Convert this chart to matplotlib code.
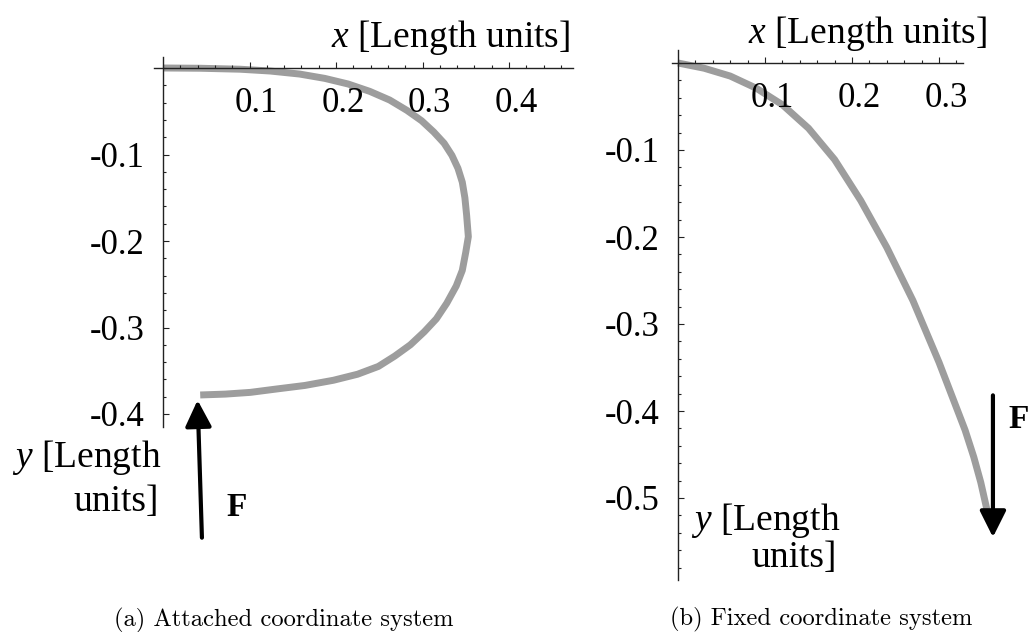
import matplotlib
matplotlib.use("Agg")
import matplotlib.pyplot as plt
from matplotlib.ticker import MultipleLocator
from matplotlib.transforms import ScaledTranslation

plt.rcParams["font.family"] = "Liberation Serif"
plt.rcParams["mathtext.fontset"] = "custom"
plt.rcParams["mathtext.rm"] = "Liberation Serif"
plt.rcParams["mathtext.it"] = "Liberation Serif:italic"
plt.rcParams["mathtext.bf"] = "Liberation Serif:bold"

# beam shape seen from the attached (rotating) frame
attached_x = [0.0, 0.043, 0.089, 0.124, 0.158, 0.187, 0.214, 0.239, 0.262,
              0.282, 0.299, 0.313, 0.325, 0.334, 0.341, 0.346, 0.349, 0.351,
              0.353, 0.350, 0.346, 0.339, 0.328, 0.316, 0.302, 0.286, 0.268,
              0.249, 0.225, 0.197, 0.164, 0.132, 0.101, 0.072, 0.043]
attached_y = [0.0, -0.0003, -0.0014, -0.0035, -0.007, -0.012, -0.0185, -0.027,
              -0.037, -0.049, -0.061, -0.074, -0.087, -0.101, -0.116, -0.132,
              -0.150, -0.170, -0.195, -0.213, -0.234, -0.252, -0.272, -0.290,
              -0.305, -0.320, -0.333, -0.345, -0.354, -0.361, -0.367, -0.371,
              -0.375, -0.377, -0.378]

# beam shape seen from the fixed frame
fixed_x = [0.0, 0.03, 0.06, 0.09, 0.12, 0.15, 0.18, 0.21, 0.24, 0.27, 0.30,
           0.33, 0.34, 0.348, 0.355]
fixed_y = [0.0, -0.006, -0.015, -0.029, -0.048, -0.075, -0.111, -0.158,
           -0.212, -0.273, -0.344, -0.422, -0.453, -0.482, -0.513]

attached_xticks = [0.1, 0.2, 0.3, 0.4]
attached_yticks = [-0.1, -0.2, -0.3, -0.4]
fixed_xticks = [0.1, 0.2, 0.3]
fixed_yticks = [-0.1, -0.2, -0.3, -0.4, -0.5]

# tip load F: (tail, head)
attached_force = [(0.045, -0.543), (0.040, -0.384)]
fixed_force = [(0.362, -0.382), (0.362, -0.545)]

W, H = 1030, 632
fig = plt.figure(figsize=(W / 100, H / 100), dpi=100)


def px(x, y):
    return x / W, 1 - y / H


def make_axes(origin, scale, left, right, top, bottom, xticks, yticks):
    # origin = pixel of (0, 0), scale = pixels per length unit
    ox, oy = origin
    ax = fig.add_axes([left / W, 1 - bottom / H, (right - left) / W, (bottom - top) / H])
    ax.set_xlim((left - ox) / scale, (right - ox) / scale)
    ax.set_ylim((oy - bottom) / scale, (oy - top) / scale)
    ax.patch.set_alpha(0)
    for side in ["top", "right"]:
        ax.spines[side].set_visible(False)
    for side in ["left", "bottom"]:
        ax.spines[side].set_position(("data", 0))
        ax.spines[side].set_linewidth(1.0)
        ax.spines[side].set_color("#222222")
    ax.set_xticks(xticks, labels=[f"{t:g}" for t in xticks])
    ax.set_yticks(yticks, labels=[f"{t:g}" for t in yticks])
    ax.xaxis.set_minor_locator(MultipleLocator(0.02))
    ax.yaxis.set_minor_locator(MultipleLocator(0.02))
    ax.tick_params(which="both", direction="in", color="#222222", width=0.8,
                   labelsize=25, pad=13.5)
    ax.tick_params(which="major", length=4.5)
    ax.tick_params(which="minor", length=2.5)
    shift = ScaledTranslation(0.07, 0, fig.dpi_scale_trans)
    for lbl in ax.get_xticklabels():
        lbl.set_transform(lbl.get_transform() + shift)
    return ax


def force_arrow(ax, force):
    tail, head = force
    ax.annotate("", xy=head, xytext=tail, annotation_clip=False,
                arrowprops=dict(arrowstyle="-|>,head_length=0.8,head_width=0.4",
                                lw=3, color="black", shrinkA=0, shrinkB=0,
                                mutation_scale=20))


beam = dict(color="#9d9d9d", lw=5, solid_capstyle="butt", solid_joinstyle="round",
            zorder=1, clip_on=False)

# (a) attached coordinate system
ax1 = make_axes((163, 68), 865, 153.5, 573, 57, 427, attached_xticks, attached_yticks)
ax1.plot(attached_x, attached_y, **beam)
force_arrow(ax1, attached_force)

# (b) fixed coordinate system
ax2 = make_axes((678, 63), 870, 672, 963, 50, 580, fixed_xticks, fixed_yticks)
ax2.plot(fixed_x, fixed_y, **beam)
force_arrow(ax2, fixed_force)

lab = dict(fontsize=27, ha="right", va="baseline")
fig.text(*px(570, 47), r"$x$ [Length units]", **lab)
fig.text(*px(987, 43), r"$x$ [Length units]", **lab)
fig.text(*px(161, 467), r"$y$ [Length", **lab)
fig.text(*px(159, 511), "units]", **lab)
fig.text(*px(840, 530), r"$y$ [Length", **lab)
fig.text(*px(837, 567), "units]", **lab)

fig.text(*px(237, 508), "F", fontsize=24, fontweight="bold", ha="center", va="center")
fig.text(*px(1019, 420), "F", fontsize=24, fontweight="bold", ha="center", va="center")

cap = dict(fontfamily="cmr10", fontsize=17.7, ha="center", va="center")
fig.text(*px(284, 620), "(a) Attached coordinate system", **cap)
fig.text(*px(821, 619), "(b) Fixed coordinate system", **cap)

fig.savefig("out.png", dpi=100, facecolor="white")
